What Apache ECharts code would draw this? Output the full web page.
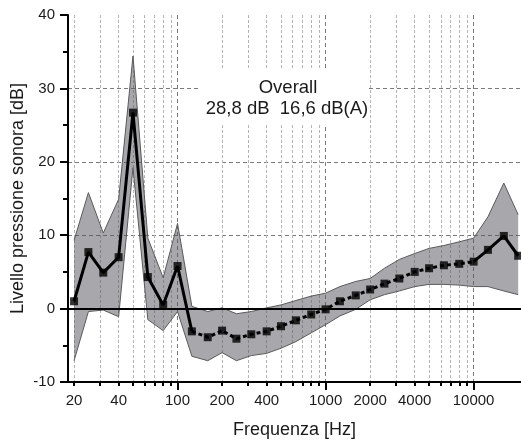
<!DOCTYPE html>
<html>
<head>
<meta charset="utf-8">
<script src="https://cdn.jsdelivr.net/npm/echarts@6/dist/echarts.min.js"></script>
<style>html,body{margin:0;padding:0;background:#fff}#c{width:521px;height:443px}</style>
</head>
<body>
<div id="c"></div>
<script>
// Third-octave band centre frequencies [Hz]
var freqs = [20, 25, 31.5, 40, 50, 63, 80, 100, 125, 160, 200, 250, 315, 400, 500, 630, 800, 1000, 1250, 1600, 2000, 2500, 3150, 4000, 5000, 6300, 8000, 10000, 12500, 16000, 20000];
// Mean level [dB]
var levels = [1.0, 7.7, 4.9, 7.0, 26.7, 4.3, 0.5, 5.8, -3.1, -3.9, -3.0, -4.1, -3.5, -3.1, -2.4, -1.6, -0.8, -0.1, 1.0, 1.8, 2.6, 3.4, 4.1, 5.0, 5.5, 5.9, 6.1, 6.4, 8.0, 9.9, 7.2];
// Band upper / lower limits [dB]
var upper = [9.3, 15.8, 10.3, 14.9, 34.4, 9.6, 4.2, 11.6, 0.3, -0.4, 0.1, -0.7, -0.4, 0.1, 0.5, 1.1, 1.7, 2.1, 3.0, 3.7, 4.1, 5.5, 6.7, 7.5, 8.2, 8.6, 9.1, 9.6, 12.5, 17.1, 12.8];
var lower = [-7.1, -0.4, -0.2, -1.1, 19.2, -1.5, -3.0, -0.4, -6.5, -7.1, -6.0, -7.1, -6.4, -6.1, -5.4, -4.5, -3.3, -2.2, -1.0, -0.1, 1.2, 1.9, 2.4, 3.0, 3.3, 3.3, 3.2, 3.0, 3.0, 2.4, 1.9];
// Indices of the dashed segment of the curve
var dashedFrom = 8, dashedTo = 27;
// Tick values
var xTickLabels = [20, 40, 100, 200, 400, 1000, 2000, 4000, 10000];
var xMinorTicks = [20, 30, 40, 50, 60, 70, 80, 90, 200, 300, 400, 500, 600, 700, 800, 900, 2000, 3000, 4000, 5000, 6000, 7000, 8000, 9000];
var xDecadeTicks = [100, 1000, 10000];
var yTicks = [-10, 0, 10, 20, 30, 40];
var overallTitle = 'Overall';
var overallText = '28,8 dB  16,6 dB(A)';

var FONT = '"Liberation Sans", Arial, Helvetica, sans-serif';
var TXT = '#1a1a1a';

var solidData = freqs.map(function (f, i) { return (i <= dashedFrom || i >= dashedTo) ? [f, levels[i]] : [f, '-']; });
var dashedData = freqs.map(function (f, i) { return (i >= dashedFrom && i <= dashedTo) ? [f, levels[i]] : [f, '-']; });
var pointData = freqs.map(function (f, i) { return [f, levels[i]]; });

function renderBand(params, api) {
  if (params.dataIndex !== 0) return null;
  var up = freqs.map(function (f, i) { return api.coord([f, upper[i]]); });
  var lo = freqs.map(function (f, i) { return api.coord([f, lower[i]]); });
  var poly = up.concat(lo.slice().reverse());
  return {
    type: 'group',
    children: [
      { type: 'polygon', shape: { points: poly }, style: { fill: 'rgba(81,79,89,0.5)', stroke: null } },
      { type: 'polyline', shape: { points: up }, style: { fill: null, stroke: '#5a5a5a', lineWidth: 1 } },
      { type: 'polyline', shape: { points: lo }, style: { fill: null, stroke: '#5a5a5a', lineWidth: 1 } }
    ]
  };
}

var chart = echarts.init(document.getElementById('c'), null, { renderer: 'canvas' });
chart.setOption({
  animation: false,
  backgroundColor: '#fff',
  textStyle: { fontFamily: FONT },
  grid: { left: 68, right: 0, top: 15, bottom: 61, containLabel: false, outerBoundsMode: 'none' },
  xAxis: [{
    type: 'log', logBase: 10, min: 18.2, max: 20900,
    axisLine: { onZero: false, lineStyle: { color: '#000', width: 2 } },
    axisTick: { show: true, customValues: xMinorTicks, length: 4, lineStyle: { color: '#000', width: 2 } },
    axisLabel: { customValues: xTickLabels, formatter: function (v) { return String(Math.round(v)); }, fontSize: 15, color: TXT, margin: 11, fontFamily: FONT },
    splitLine: { show: true, lineStyle: { color: '#b4b4b4', type: [3, 2], width: 1 } },
    name: 'Frequenza [Hz]', nameLocation: 'middle', nameGap: 39, nameMoveOverlap: false,
    nameTextStyle: { fontSize: 18, color: TXT, fontFamily: FONT }
  }, {
    type: 'log', logBase: 10, min: 18.2, max: 20900, position: 'bottom',
    axisLine: { show: false, onZero: false },
    axisTick: { show: true, customValues: xDecadeTicks, length: 8, lineStyle: { color: '#000', width: 2 } },
    axisLabel: { show: false },
    splitLine: { show: true, lineStyle: { color: '#7a7a7a', type: [4, 3], width: 1 } }
  }],
  yAxis: [{
    type: 'value', min: yTicks[0], max: yTicks[yTicks.length - 1], interval: 10,
    axisLine: { show: true, onZero: false, lineStyle: { color: '#000', width: 2 } },
    axisTick: { show: true, length: 8, lineStyle: { color: '#000', width: 2 } },
    minorTick: { show: true, splitNumber: 2, length: 5, lineStyle: { color: '#000', width: 2 } },
    axisLabel: { fontSize: 15, color: TXT, margin: 13, fontFamily: FONT },
    splitLine: { show: true, showMinLine: false, showMaxLine: false, lineStyle: { color: '#7a7a7a', type: [4, 3], width: 1 } },
    name: 'Livello pressione sonora [dB]', nameLocation: 'middle', nameGap: 41, nameMoveOverlap: false,
    nameTextStyle: { fontSize: 18, color: TXT, fontFamily: FONT }
  }],
  series: [
    { name: 'band', type: 'custom', coordinateSystem: 'cartesian2d', xAxisIndex: 0, yAxisIndex: 0,
      data: [[freqs[0], upper[0]]], renderItem: renderBand, z: 2, silent: true },
    { name: 'zero', type: 'line', data: [], z: 3,
      markLine: { silent: true, symbol: 'none', label: { show: false },
        lineStyle: { color: '#000', width: 2, type: 'solid' }, data: [{ yAxis: 0 }] } },
    { name: 'solid', type: 'line', data: solidData, connectNulls: false, symbol: 'none',
      lineStyle: { color: '#000', width: 3 }, z: 4 },
    { name: 'dashed', type: 'line', data: dashedData, connectNulls: false, symbol: 'none',
      lineStyle: { color: '#000', width: 3, type: [4, 3] }, z: 4 },
    { name: 'points', type: 'scatter', data: pointData, symbol: 'rect', symbolSize: 8,
      itemStyle: { color: '#000' }, z: 5 }
  ],
  graphic: [
    { type: 'rect', zlevel: 1, z: 100, shape: { x: 200, y: 69, width: 167, height: 56 }, style: { fill: '#ffffff' } },
    { type: 'text', zlevel: 1, z: 101, x: 288, y: 88, style: { text: overallTitle, fontSize: 18.5, fontFamily: FONT, fill: TXT, align: 'center', verticalAlign: 'middle' } },
    { type: 'text', zlevel: 1, z: 101, x: 287, y: 108.5, style: { text: overallText, fontSize: 18.5, fontFamily: FONT, fill: TXT, align: 'center', verticalAlign: 'middle' } }
  ]
});
</script>
</body>
</html>
